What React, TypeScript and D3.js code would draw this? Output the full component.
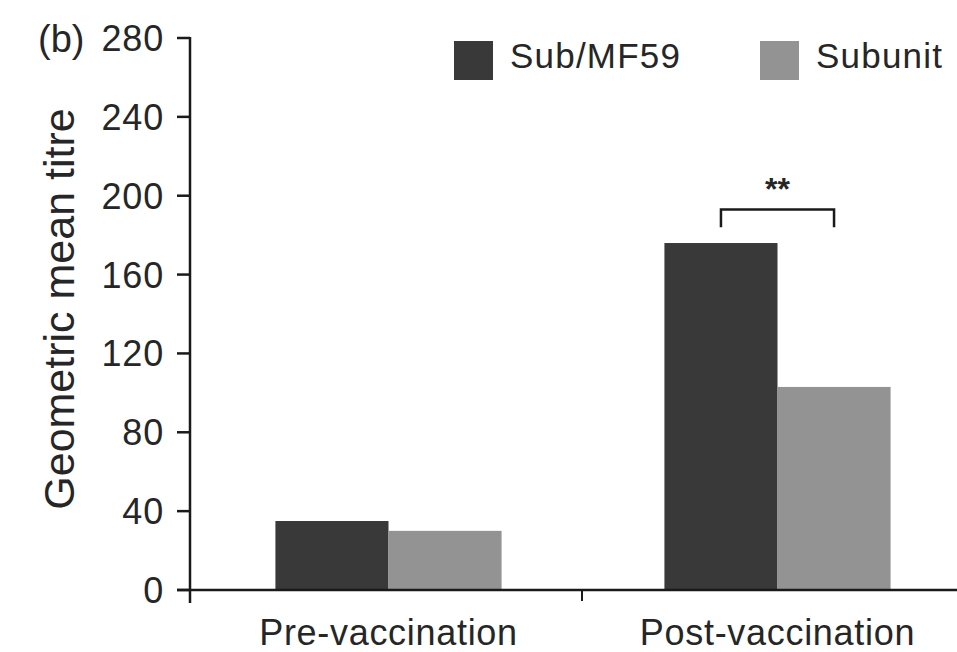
import React, { useEffect, useRef } from "react";
import * as d3 from "d3";

const categories = ["Pre-vaccination", "Post-vaccination"];
const seriesNames = ["Sub/MF59", "Subunit"];
const subMF59 = [35, 176];
const subunit = [30, 103];
const yTicks = [0, 40, 80, 120, 160, 200, 240, 280];
const sigLabel = "**";
const sigLevel = 193; // bracket height, in titre units
const sigDrop = 184;

const colors = ["#393939", "#939393"];
const FONT = "'Liberation Sans', Arial, sans-serif";

const App = () => {
  const ref = useRef<SVGSVGElement>(null);

  useEffect(() => {
    const width = 957;
    const height = 652;
    const svg = d3.select(ref.current);
    svg.selectAll("*").remove();
    svg.attr("width", width).attr("height", height);

    const axisX = 190;
    const y = d3.scaleLinear().domain([0, 280]).range([590, 38]);

    const x = d3.scaleBand().domain(categories).range([194, 972]).padding(0);
    const xs = d3
      .scaleBand()
      .domain(seriesNames)
      .range([0, x.bandwidth()])
      .paddingInner(0)
      .paddingOuter(0.72);

    const rows = categories.map((c, i) => ({
      cat: c,
      vals: [subMF59[i], subunit[i]],
    }));

    // bars
    const g = svg.append("g");
    rows.forEach((r) => {
      r.vals.forEach((v, j) => {
        g.append("rect")
          .attr("x", (x(r.cat) as number) + (xs(seriesNames[j]) as number))
          .attr("y", y(v))
          .attr("width", xs.bandwidth())
          .attr("height", y(0) - y(v))
          .attr("fill", colors[j]);
      });
    });

    const axisColor = "#1a1a1a";
    const textColor = "#262626";

    // y axis
    svg
      .append("line")
      .attr("x1", axisX)
      .attr("x2", axisX)
      .attr("y1", y(280) - 1)
      .attr("y2", y(0) + 13)
      .attr("stroke", axisColor)
      .attr("stroke-width", 2.5);

    yTicks.forEach((t) => {
      svg
        .append("line")
        .attr("x1", axisX - 13)
        .attr("x2", axisX)
        .attr("y1", y(t))
        .attr("y2", y(t))
        .attr("stroke", axisColor)
        .attr("stroke-width", 2.5);
      svg
        .append("text")
        .attr("x", axisX - 26)
        .attr("y", y(t))
        .attr("dy", "0.36em")
        .attr("text-anchor", "end")
        .attr("font-family", FONT)
        .attr("font-size", 36)
        .attr("letter-spacing", 0.8)
        .attr("fill", textColor)
        .text(t);
    });

    // x axis
    svg
      .append("line")
      .attr("x1", axisX - 13)
      .attr("x2", width)
      .attr("y1", y(0))
      .attr("y2", y(0))
      .attr("stroke", axisColor)
      .attr("stroke-width", 2.5);

    // separator tick between categories
    const sep = (x(categories[1]) as number) - 1;
    svg
      .append("line")
      .attr("x1", sep)
      .attr("x2", sep)
      .attr("y1", y(0))
      .attr("y2", y(0) + 11)
      .attr("stroke", axisColor)
      .attr("stroke-width", 2);

    categories.forEach((c) => {
      svg
        .append("text")
        .attr("x", (x(c) as number) + x.bandwidth() / 2)
        .attr("y", 645)
        .attr("text-anchor", "middle")
        .attr("font-family", FONT)
        .attr("font-size", 36)
        .attr("letter-spacing", 0.7)
        .attr("fill", textColor)
        .text(c);
    });

    // y label
    svg
      .append("text")
      .attr("transform", `translate(74,${309}) rotate(-90)`)
      .attr("text-anchor", "middle")
      .attr("font-family", FONT)
      .attr("font-size", 43)
      .attr("fill", textColor)
      .text("Geometric mean titre");

    // panel label
    svg
      .append("text")
      .attr("x", 38)
      .attr("y", 52)
      .attr("font-family", FONT)
      .attr("font-size", 38)
      .attr("fill", textColor)
      .text("(b)");

    // significance bracket
    const post = categories[1];
    const x1 = (x(post) as number) + (xs(seriesNames[0]) as number) + xs.bandwidth() / 2;
    const x2 = (x(post) as number) + (xs(seriesNames[1]) as number) + xs.bandwidth() / 2;
    svg
      .append("path")
      .attr(
        "d",
        `M${x1},${y(sigDrop)}V${y(sigLevel)}H${x2}V${y(sigDrop)}`
      )
      .attr("fill", "none")
      .attr("stroke", axisColor)
      .attr("stroke-width", 2.5);
    svg
      .append("text")
      .attr("x", (x1 + x2) / 2)
      .attr("y", y(sigLevel) - 10)
      .attr("text-anchor", "middle")
      .attr("font-family", FONT)
      .attr("font-size", 32)
      .attr("font-weight", "bold")
      .attr("fill", textColor)
      .text(sigLabel);

    // legend
    const legendX = [454, 760];
    seriesNames.forEach((s, i) => {
      svg
        .append("rect")
        .attr("x", legendX[i])
        .attr("y", 41)
        .attr("width", 39)
        .attr("height", 39)
        .attr("fill", colors[i]);
      svg
        .append("text")
        .attr("x", legendX[i] + 56)
        .attr("y", 68)
        .attr("font-family", FONT)
        .attr("font-size", 35)
        .attr("letter-spacing", 1.2)
        .attr("fill", textColor)
        .text(s);
    });
  }, []);

  return (
    <svg
      ref={ref}
      style={{ position: "absolute", left: 0, top: 0, background: "#fff" }}
    ></svg>
  );
};

export default App;
